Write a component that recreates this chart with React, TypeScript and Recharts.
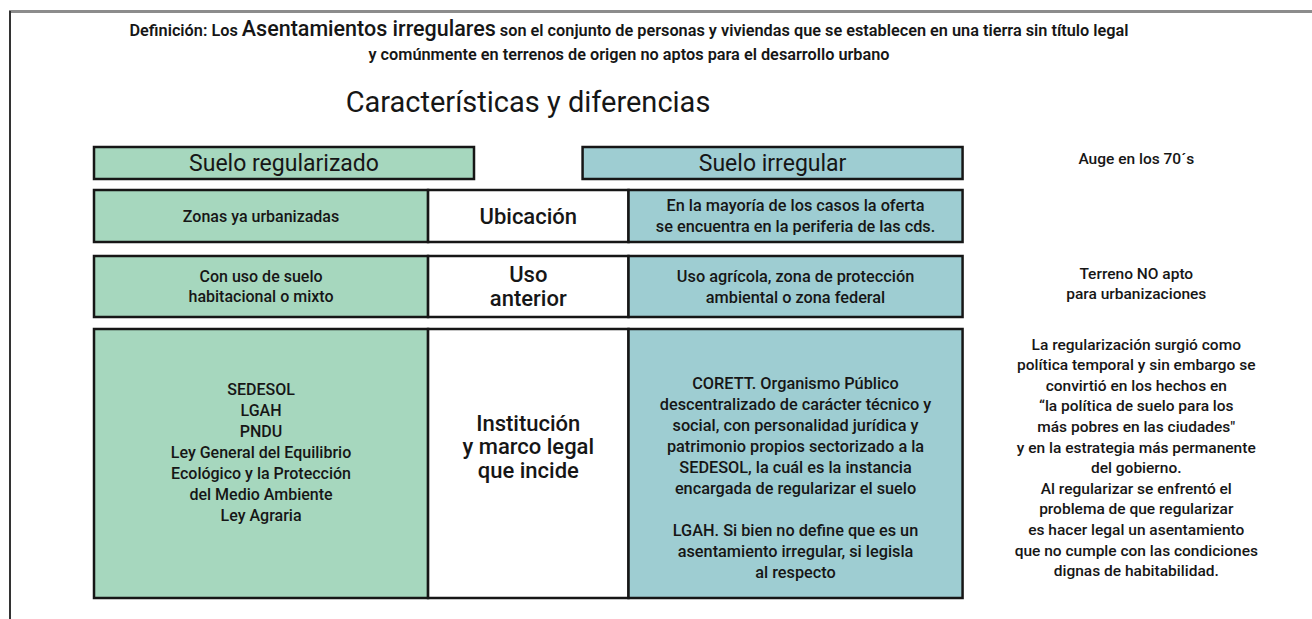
import { BarChart, Bar, XAxis, YAxis, LabelList } from "recharts";

// table content
const headerLabels = ["Suelo regularizado", "", "Suelo irregular", "Auge en los 70´s"];
const headerWeights = [7, 2, 7, 6.4];

const topics = ["Ubicación", "Uso\nanterior", "Institución\ny marco legal\nque incide"];
const regularized = [
  "Zonas ya urbanizadas",
  "Con uso de suelo\nhabitacional o mixto",
  "SEDESOL\nLGAH\nPNDU\nLey General del Equilibrio\nEcológico y la Protección\ndel Medio Ambiente\nLey Agraria",
];
const irregular = [
  "En la mayoría de los casos la oferta\nse encuentra en la periferia de las cds.",
  "Uso agrícola, zona de protección\nambiental o zona federal",
  "CORETT. Organismo Público\ndescentralizado de carácter técnico y\nsocial, con personalidad jurídica y\npatrimonio propios sectorizado a la\nSEDESOL, la cuál es la instancia\nencargada de regularizar el suelo\n\nLGAH. Si bien no define que es un\nasentamiento irregular, si legisla\nal respecto",
];
const notes = [
  "",
  "Terreno NO apto\npara urbanizaciones",
  "La regularización surgió como\npolítica temporal y sin embargo se\nconvirtió en los hechos en\n“la política de suelo para los\nmás pobres en las ciudades\"\ny en la estrategia más permanente\ndel gobierno.\nAl regularizar se enfrentó el\nproblema de que regularizar\nes hacer legal un asentamiento\nque no cumple con las condiciones\ndignas de habitabilidad.",
];
const columnWeights = [5, 3, 5, 5.2];

const FONT = "Roboto, 'Liberation Sans', sans-serif";
const GREEN = "#a6d7be";
const BLUE = "#9ecdd2";
const INK = "#161616";

// layout of the rows (px)
const LEFT = 94;
const CHART_W = 1216;
const rowTops = [190, 256, 329];
const rowHeights = [52, 61, 269];
const rowShift = [0, -3, -6];

const makeLabel =
  (size: number, weight: number, lh: number, dy = 0) =>
  (props: any) => {
    const vb = props.viewBox ?? props;
    const { x, y, width, height } = vb;
    const value = props.value;
    if (!value) return null;
    const lines = String(value).split("\n");
    const cx = x + width / 2;
    const y0 = y + height / 2 + dy - ((lines.length - 1) * lh) / 2;
    return (
      <text x={cx} y={y0} textAnchor="middle" fontFamily={FONT} fontSize={size} fontWeight={weight} fill={INK}>
        {lines.map((l, i) => (
          <tspan key={i} x={cx} y={y0 + i * lh} dy="0.35em">
            {l}
          </tspan>
        ))}
      </text>
    );
  };

function HeaderRow() {
  const data = [
    { name: "header", a: headerWeights[0], b: headerWeights[1], c: headerWeights[2], d: headerWeights[3], ta: headerLabels[0], tc: headerLabels[2], td: headerLabels[3] },
  ];
  const total = headerWeights.reduce((s, v) => s + v, 0);
  return (
    <div style={{ position: "absolute", left: LEFT - 2, top: 147 - 2 }}>
      <BarChart width={CHART_W + 4} height={32 + 4} data={data} layout="vertical" margin={{ top: 2, right: 2, bottom: 2, left: 2 }} barCategoryGap={0}>
        <XAxis type="number" hide domain={[0, total]} />
        <YAxis type="category" dataKey="name" hide />
        <Bar dataKey="a" stackId="h" fill={GREEN} stroke={INK} strokeWidth={2.5} isAnimationActive={false}>
          <LabelList dataKey="ta" content={makeLabel(23, 400, 22)} />
        </Bar>
        <Bar dataKey="b" stackId="h" fill="none" isAnimationActive={false} />
        <Bar dataKey="c" stackId="h" fill={BLUE} stroke={INK} strokeWidth={2.5} isAnimationActive={false}>
          <LabelList dataKey="tc" content={makeLabel(23, 400, 22)} />
        </Bar>
        <Bar dataKey="d" stackId="h" fill="none" isAnimationActive={false}>
          <LabelList dataKey="td" content={makeLabel(15.5, 500, 21, -4)} />
        </Bar>
      </BarChart>
    </div>
  );
}

function TableRow({ i }: { i: number }) {
  const data = [
    {
      name: topics[i],
      a: columnWeights[0],
      b: columnWeights[1],
      c: columnWeights[2],
      d: columnWeights[3],
      ta: regularized[i],
      tb: topics[i],
      tc: irregular[i],
      td: notes[i],
    },
  ];
  const total = columnWeights.reduce((s, v) => s + v, 0);
  const big = i === 2;
  return (
    <div style={{ position: "absolute", left: LEFT - 2, top: rowTops[i] - 2 }}>
      <BarChart width={CHART_W + 4} height={rowHeights[i] + 4} data={data} layout="vertical" margin={{ top: 2, right: 2, bottom: 2, left: 2 }} barCategoryGap={0}>
        <XAxis type="number" hide domain={[0, total]} />
        <YAxis type="category" dataKey="name" hide />
        <Bar dataKey="a" stackId="r" fill={GREEN} stroke={INK} strokeWidth={2.5} isAnimationActive={false}>
          <LabelList dataKey="ta" content={makeLabel(16, 500, big ? 21 : 20, big ? -11 : 0)} />
        </Bar>
        <Bar dataKey="b" stackId="r" fill="#ffffff" stroke={INK} strokeWidth={2.5} isAnimationActive={false}>
          <LabelList dataKey="tb" content={makeLabel(22, 500, 23.5, big ? -17 : 0)} />
        </Bar>
        <Bar dataKey="c" stackId="r" fill={BLUE} stroke={INK} strokeWidth={2.5} isAnimationActive={false}>
          <LabelList dataKey="tc" content={makeLabel(16.3, 500, 21, big ? 14 : 0)} />
        </Bar>
        <Bar dataKey="d" stackId="r" fill="none" isAnimationActive={false}>
          <LabelList dataKey="td" content={makeLabel(15.5, 500, 20.6, rowShift[i])} />
        </Bar>
      </BarChart>
    </div>
  );
}

export default function App() {
  return (
    <div style={{ position: "absolute", left: 0, top: 0, width: 1312, height: 619, background: "#fff", overflow: "hidden", fontFamily: FONT, color: INK }}>
      <div style={{ position: "absolute", left: 9, top: 10, width: 1303, height: 3, background: "#8c8c8c" }} />
      <div style={{ position: "absolute", left: 9, top: 11, width: 1.5, height: 608, background: "#333" }} />

      <div style={{ position: "absolute", left: 29, width: 1200, top: 17, textAlign: "center", fontSize: 16.3, fontWeight: 600, lineHeight: "24px", whiteSpace: "nowrap" }}>
        Definición: Los <span style={{ fontSize: 21.5, fontWeight: 500 }}>Asentamientos irregulares</span> son el conjunto de personas y viviendas que se establecen en una tierra sin título legal
        <br />y comúnmente en terrenos de origen no aptos para el desarrollo urbano
      </div>

      <div style={{ position: "absolute", left: 228, width: 600, top: 85, textAlign: "center", fontSize: 29, fontWeight: 400, whiteSpace: "nowrap" }}>
        Características y diferencias
      </div>

      <HeaderRow />
      {topics.map((_, i) => (
        <TableRow key={i} i={i} />
      ))}
    </div>
  );
}
